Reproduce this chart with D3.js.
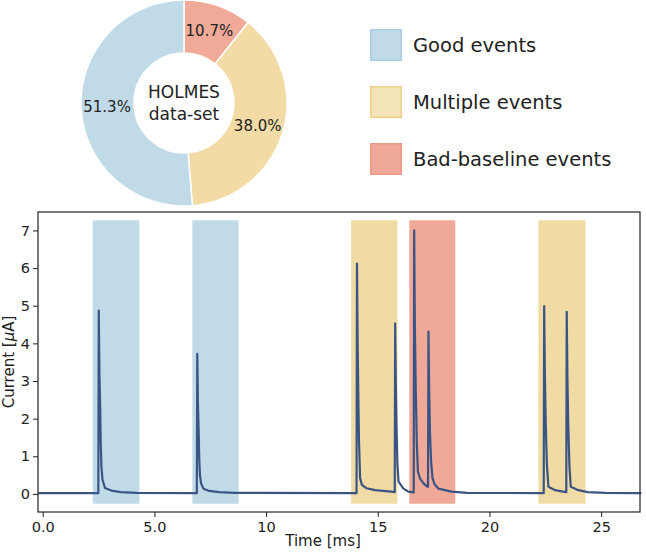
<!DOCTYPE html>
<html>
<head>
<meta charset="utf-8">
<script src="https://cdn.jsdelivr.net/npm/d3@7"></script>
<style>
  body { margin: 0; background: #fff; }
  text { font-family: "DejaVu Sans", sans-serif; fill: #222; }
</style>
</head>
<body>
<div id="chart"></div>
<script>
// pie: share of the data-set
var pieLabels = ["Bad-baseline events", "Multiple events", "Good events"];
var pieValues = [10.7, 38.0, 51.3];
var pieColors = ["#f1aa98", "#f2dba4", "#c1dae8"];

// legend (top to bottom)
var legendLabels = ["Good events", "Multiple events", "Bad-baseline events"];
var legendFill = ["#c1dae8", "#f4e3b9", "#f0a898"];
var legendEdge = ["#a9cde2", "#eed08b", "#ec9a86"];

// shaded event windows [start, end] in ms
var spanStart = [2.24, 6.70, 13.81, 16.41, 22.19];
var spanEnd = [4.33, 8.77, 15.88, 18.47, 24.30];
var spanType = [0, 0, 1, 2, 1];   // 0 good, 1 multiple, 2 bad baseline
var spanColors = ["#c1dae8", "#f1dba4", "#f0a898"];

// current trace
var traceTime = [-0.2, 2.49, 2.51, 2.54, 2.57, 2.60, 2.63, 2.68, 2.79, 3.07, 3.5, 4.2,
    6.90, 6.92, 6.95, 6.98, 7.01, 7.04, 7.09, 7.2, 7.45, 7.9, 8.6,
    14.05, 14.07, 14.10, 14.13, 14.16, 14.21, 14.29, 14.5, 14.88, 15.6,
    15.76, 15.78, 15.81, 15.84, 15.88, 15.93, 16.15, 16.37,
    16.61, 16.63, 16.66, 16.70, 16.75, 16.80, 16.9, 17.05, 17.2,
    17.25, 17.27, 17.30, 17.34, 17.39, 17.45, 17.55, 17.72, 18.3, 19.0,
    22.43, 22.45, 22.48, 22.52, 22.57, 22.64, 22.94, 23.3,
    23.44, 23.46, 23.49, 23.53, 23.58, 23.64, 23.98, 24.4, 25.2, 26.8];
var traceCurrent = [0.02, 0.02, 4.87, 3.2, 2.4, 1.3, 0.72, 0.37, 0.16, 0.09, 0.05, 0.03,
    0.02, 3.72, 2.4, 1.7, 0.9, 0.5, 0.28, 0.14, 0.08, 0.05, 0.03,
    0.02, 6.12, 4.0, 2.6, 1.4, 0.42, 0.24, 0.15, 0.1, 0.06,
    0.05, 4.53, 2.9, 1.8, 0.8, 0.33, 0.14, 0.06,
    0.04, 7.0, 4.5, 2.8, 1.3, 0.59, 0.4, 0.28, 0.2,
    0.19, 4.31, 2.8, 1.6, 0.85, 0.42, 0.25, 0.14, 0.06, 0.03,
    0.02, 4.99, 3.2, 1.9, 0.8, 0.19, 0.1, 0.06,
    0.05, 4.84, 3.1, 1.8, 0.75, 0.19, 0.1, 0.05, 0.03, 0.02];

var xTicks = [0, 5, 10, 15, 20, 25];
var xTickLabels = ["0.0", "5.0", "10", "15", "20", "25"];
var yTicks = [0, 1, 2, 3, 4, 5, 6, 7];

var svgWidth = 646;
var svgHeight = 552;

var svg = d3.select("#chart")
    .append("svg")
    .attr("width", svgWidth)
    .attr("height", svgHeight);

// ---------- donut ----------
var pieGroup = svg.append("g")
    .attr("transform", "translate(184, 103)");

var pie = d3.pie().sort(null).value(d => d);
var arc = d3.arc().innerRadius(50).outerRadius(103);
var labelArc = d3.arc().innerRadius(77).outerRadius(77);

var arcs = pie(pieValues);

pieGroup.selectAll("path")
    .data(arcs)
    .enter()
    .append("path")
    .attr("d", arc)
    .attr("fill", (d, i) => pieColors[i])
    .attr("stroke", "#fff")
    .attr("stroke-width", 1.5);

pieGroup.selectAll("text.pct")
    .data(arcs)
    .enter()
    .append("text")
    .attr("class", "pct")
    .attr("transform", d => `translate(${labelArc.centroid(d)})`)
    .attr("text-anchor", "middle")
    .attr("dy", "0.36em")
    .style("font-size", "15px")
    .text(d => d.data.toFixed(1) + "%");

pieGroup.append("text")
    .attr("text-anchor", "middle")
    .attr("y", -5)
    .style("font-size", "17px")
    .text("HOLMES");
pieGroup.append("text")
    .attr("text-anchor", "middle")
    .attr("y", 17)
    .style("font-size", "17px")
    .text("data-set");

// ---------- legend ----------
var legend = svg.append("g")
    .attr("transform", "translate(370, 29)");

legendLabels.forEach(function (label, i) {
    var row = legend.append("g").attr("transform", `translate(0, ${i * 57})`);
    row.append("rect")
        .attr("x", 0.75)
        .attr("y", 0.75)
        .attr("width", 30.5)
        .attr("height", 30.5)
        .attr("fill", legendFill[i])
        .attr("stroke", legendEdge[i])
        .attr("stroke-width", 1.5);
    row.append("text")
        .attr("x", 43)
        .attr("y", 23)
        .style("font-size", "19.5px")
        .text(label);
});

// ---------- trace ----------
var margin = { top: 212, right: 6, bottom: 40, left: 38 };
var width = svgWidth - margin.left - margin.right;
var height = svgHeight - margin.top - margin.bottom;

var chartGroup = svg.append("g")
    .attr("transform", `translate(${margin.left}, ${margin.top})`);

var xscale = d3.scaleLinear().domain([-0.21, 26.74]).range([0, width]);
var yscale = d3.scaleLinear().domain([-0.48, 7.49]).range([height, 0]);

chartGroup.selectAll("rect.span")
    .data(spanStart)
    .enter()
    .append("rect")
    .attr("class", "span")
    .attr("x", (d, i) => xscale(d))
    .attr("width", (d, i) => xscale(spanEnd[i]) - xscale(d))
    .attr("y", yscale(7.27))
    .attr("height", yscale(-0.26) - yscale(7.27))
    .attr("fill", (d, i) => spanColors[spanType[i]]);

var points = traceTime.map((t, i) => [t, traceCurrent[i]]);

chartGroup.append("path")
    .datum(points)
    .attr("fill", "none")
    .attr("stroke", "#3a5583")
    .attr("stroke-width", 2.2)
    .attr("stroke-linejoin", "round")
    .attr("d", d3.line().x(d => xscale(d[0])).y(d => yscale(d[1])));

var bottomAxis = d3.axisBottom(xscale)
    .tickValues(xTicks)
    .tickFormat((d, i) => xTickLabels[i])
    .tickSizeOuter(0)
    .tickSize(5);
var leftAxis = d3.axisLeft(yscale)
    .tickValues(yTicks)
    .tickSizeOuter(0)
    .tickSize(5);

var xAxis = chartGroup.append("g")
    .attr("transform", `translate(0, ${height})`)
    .call(bottomAxis);
var yAxis = chartGroup.append("g").call(leftAxis);

[xAxis, yAxis].forEach(function (ax) {
    ax.select(".domain").remove();
    ax.selectAll("line").attr("stroke", "#222");
    ax.selectAll("text").style("font-size", "14.5px").attr("fill", "#222");
});
xAxis.selectAll("text").attr("dy", "0.85em");

chartGroup.append("rect")
    .attr("x", 0)
    .attr("y", 0)
    .attr("width", width)
    .attr("height", height)
    .attr("fill", "none")
    .attr("stroke", "#222")
    .attr("stroke-width", 1.2);

// axis labels
var yLabel = chartGroup.append("text")
    .attr("transform", "rotate(-90)")
    .attr("x", -height / 2)
    .attr("y", -24)
    .attr("text-anchor", "middle")
    .style("font-size", "15px");
yLabel.append("tspan").text("Current [");
yLabel.append("tspan").style("font-style", "italic").text("\u03bc");
yLabel.append("tspan").text("A]");

chartGroup.append("text")
    .attr("x", 285)
    .attr("y", height + 34)
    .attr("text-anchor", "middle")
    .style("font-size", "15px")
    .text("Time [ms]");
</script>
</body>
</html>
